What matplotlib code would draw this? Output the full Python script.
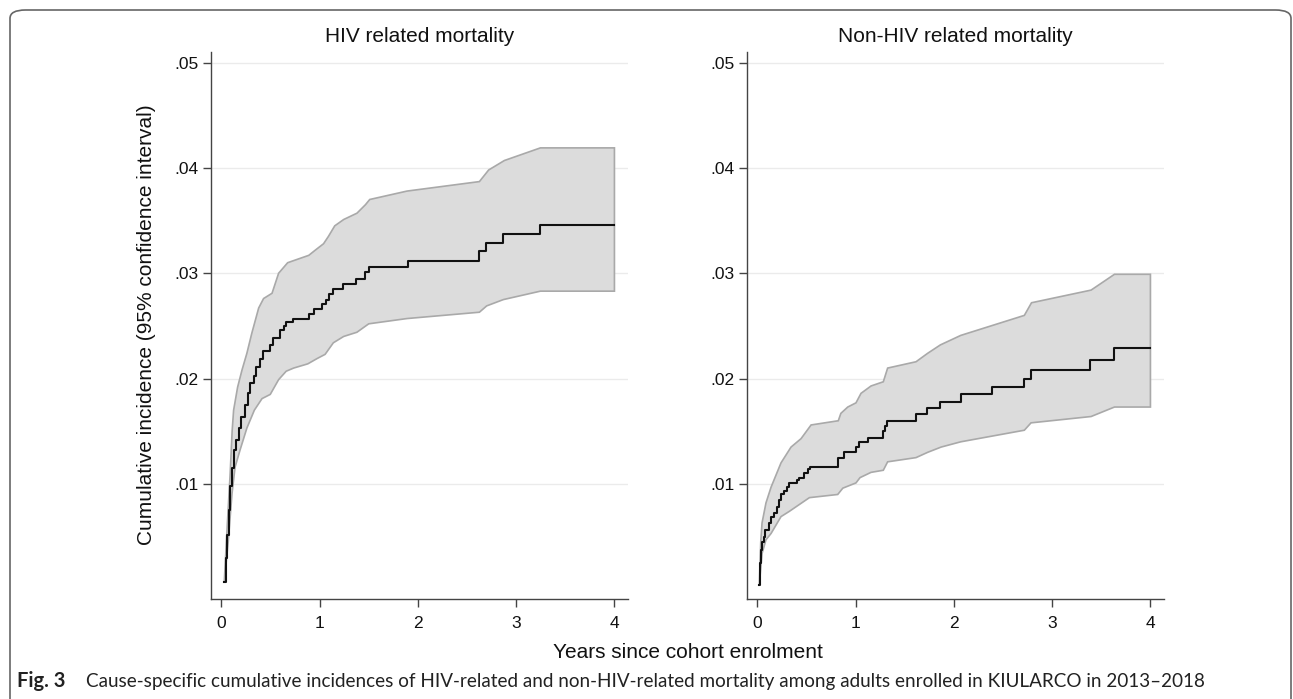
import numpy as np
import matplotlib
matplotlib.use("Agg")
import matplotlib.pyplot as plt
from matplotlib.patches import FancyBboxPatch

plt.rcParams['font.family'] = ['Liberation Sans', 'DejaVu Sans']

# 1. data
hiv_t = [0.03, 0.045, 0.06, 0.075, 0.09, 0.105, 0.125, 0.15, 0.176, 0.2, 0.244, 0.268, 0.295,
         0.336, 0.356, 0.39, 0.424, 0.5, 0.53, 0.593, 0.634, 0.66, 0.73, 0.89, 0.946, 1.026,
         1.067, 1.10, 1.137, 1.238, 1.37, 1.46, 1.50, 1.896, 2.62, 2.695, 2.87, 3.247, 4.0]
hiv_est = [0.0007, 0.0030, 0.0052, 0.0075, 0.0098, 0.0115, 0.0132, 0.0142, 0.0153, 0.0164,
           0.0175, 0.0186, 0.0196, 0.0202, 0.0211, 0.0219, 0.0226, 0.0232, 0.0239, 0.0246,
           0.0250, 0.0254, 0.0257, 0.0261, 0.0266, 0.0271, 0.0275, 0.0280, 0.0285, 0.0290,
           0.0295, 0.0301, 0.0306, 0.0312, 0.0321, 0.0329, 0.0337, 0.0346, 0.0346]

hiv_up_t = [0.03, 0.06, 0.09, 0.11, 0.125, 0.166, 0.21, 0.26, 0.31, 0.38, 0.43, 0.516, 0.583,
            0.675, 0.736, 0.89, 0.957, 1.04, 1.09, 1.154, 1.245, 1.38, 1.466, 1.51, 1.89,
            2.626, 2.72, 2.88, 3.247, 4.0]
hiv_up = [0.0007, 0.0060, 0.0110, 0.0150, 0.0170, 0.0192, 0.0208, 0.0224, 0.0243, 0.0267,
          0.0276, 0.0281, 0.0300, 0.0310, 0.0312, 0.0317, 0.0322, 0.0328, 0.0335, 0.0345,
          0.0351, 0.0357, 0.0365, 0.0370, 0.0378, 0.0387, 0.0398, 0.0407, 0.0419, 0.0419]

hiv_lo_t = [0.03, 0.07, 0.109, 0.14, 0.19, 0.26, 0.336, 0.414, 0.498, 0.583, 0.66, 0.736,
            0.88, 0.974, 1.056, 1.14, 1.245, 1.38, 1.5, 1.89, 2.626, 2.70, 2.87, 3.247, 4.0]
hiv_lo = [0.0007, 0.0045, 0.0091, 0.0116, 0.0132, 0.0153, 0.0170, 0.0181, 0.0185, 0.0199,
          0.0207, 0.0210, 0.0214, 0.0219, 0.0223, 0.0234, 0.0240, 0.0244, 0.0252, 0.0257,
          0.0263, 0.0269, 0.0275, 0.0283, 0.0283]

non_t = [0.02, 0.03, 0.037, 0.05, 0.065, 0.081, 0.115, 0.14, 0.173, 0.197, 0.224, 0.241,
         0.275, 0.298, 0.326, 0.40, 0.427, 0.478, 0.512, 0.54, 0.824, 0.885, 1.004, 1.038,
         1.13, 1.276, 1.30, 1.316, 1.615, 1.727, 1.86, 2.07, 2.39, 2.71, 2.78, 3.39, 3.634, 4.0]
non_est = [0.0004, 0.0025, 0.0037, 0.0045, 0.0050, 0.0056, 0.0063, 0.0069, 0.0072, 0.0078,
           0.0085, 0.0090, 0.0093, 0.0097, 0.0101, 0.0104, 0.0106, 0.0110, 0.0114, 0.0116,
           0.0125, 0.0130, 0.0135, 0.0140, 0.0144, 0.0150, 0.0155, 0.0160, 0.0166, 0.0172,
           0.0178, 0.0185, 0.0192, 0.0200, 0.0208, 0.0218, 0.0229, 0.0229]

non_up_t = [0.02, 0.035, 0.048, 0.088, 0.14, 0.241, 0.343, 0.445, 0.547, 0.824, 0.85, 0.92,
            1.004, 1.055, 1.157, 1.282, 1.326, 1.615, 1.733, 1.863, 2.07, 2.717, 2.79, 3.396,
            3.634, 4.0]
non_up = [0.0004, 0.0045, 0.0063, 0.0082, 0.0097, 0.0120, 0.0135, 0.0143, 0.0156, 0.0160,
          0.0167, 0.0173, 0.0177, 0.0186, 0.0193, 0.0197, 0.0210, 0.0216, 0.0224, 0.0232,
          0.0241, 0.0260, 0.0272, 0.0284, 0.0299, 0.0299]

non_lo_t = [0.02, 0.048, 0.088, 0.14, 0.241, 0.326, 0.42, 0.53, 0.818, 0.87, 1.004, 1.045,
            1.157, 1.282, 1.326, 1.615, 1.733, 1.87, 2.07, 2.717, 2.785, 3.396, 3.634, 4.0]
non_lo = [0.0004, 0.0034, 0.0047, 0.0053, 0.0069, 0.0074, 0.0080, 0.0087, 0.0090, 0.0096,
          0.0101, 0.0106, 0.0111, 0.0113, 0.0121, 0.0125, 0.0130, 0.0135, 0.0140, 0.0151,
          0.0158, 0.0164, 0.0173, 0.0173]

yticks = [0.01, 0.02, 0.03, 0.04, 0.05]
ytick_labels = ['.01', '.02', '.03', '.04', '.05']
xticks = [0, 1, 2, 3, 4]

panels = [
    ("HIV related mortality", hiv_t, hiv_est, hiv_up_t, hiv_up, hiv_lo_t, hiv_lo),
    ("Non-HIV related mortality", non_t, non_est, non_up_t, non_up, non_lo_t, non_lo),
]

# 2. figure
W, H = 1293, 699
fig = plt.figure(figsize=(W / 100, H / 100), dpi=100)

axes_px = [211, 747]  # left edge of each plot area in pixels
for (title, t, est, ut, up, lt, lo), x0 in zip(panels, axes_px):
    ax = fig.add_axes([x0 / W, (H - 599) / H, 417 / W, 547 / H])

    # confidence band as a polygon: upper forward, lower backward
    poly_x = np.concatenate([ut, lt[::-1]])
    poly_y = np.concatenate([up, lo[::-1]])
    ax.fill(poly_x, poly_y, facecolor='#dcdcdc', edgecolor='#a9a9a9', linewidth=1.2, zorder=2)
    ax.plot(t, est, drawstyle='steps-post', color='#111111', linewidth=1.5, zorder=3)

    ax.set_xlim(-0.105, 4.138)
    ax.set_ylim(-0.00092, 0.0510)
    ax.set_yticks(yticks)
    ax.set_yticklabels(ytick_labels)
    ax.set_xticks(xticks)
    ax.grid(axis='y', color='#ebebeb', linewidth=1.0, zorder=0)
    ax.set_axisbelow(True)
    for s in ['top', 'right']:
        ax.spines[s].set_visible(False)
    for s in ['left', 'bottom']:
        ax.spines[s].set_color('#444444')
        ax.spines[s].set_linewidth(1.0)
    ax.tick_params(axis='both', direction='out', length=6, width=1.0, color='#444444',
                   labelsize=12.5, labelcolor='#111111')
    ax.tick_params(axis='y', pad=3)
    ax.tick_params(axis='x', pad=6)
    ax.set_title(title, fontsize=15, pad=7, color='#111111')

# 3. shared labels and caption
fig.text(147 / W, 1 - 325 / H, "Cumulative incidence (95% confidence interval)",
         rotation=90, ha='center', va='center', fontsize=15, color='#111111')
fig.text(688 / W, 1 - 653 / H, "Years since cohort enrolment",
         ha='center', va='center', fontsize=15, color='#111111')

fig.text(17 / W, 1 - 687 / H, "Fig. 3", ha='left', va='baseline', fontsize=14.5,
         fontweight='bold', family=['Lato', 'DejaVu Sans'], color='#222222')
fig.text(86 / W, 1 - 687 / H,
         "Cause-specific cumulative incidences of HIV-related and non-HIV-related mortality "
         "among adults enrolled in KIULARCO in 2013\u20132018",
         ha='left', va='baseline', fontsize=13.6, family=['Lato', 'DejaVu Sans'], color='#222222')

# rounded frame around the figure (open at bottom)
frame = FancyBboxPatch((10 / W, -40 / H), 1281 / W, (H - 10 + 40) / H,
                       boxstyle="round,pad=0,rounding_size=0.012",
                       transform=fig.transFigure, facecolor='none',
                       edgecolor='#666666', linewidth=1.2, clip_on=False)
fig.patches.append(frame)

plt.savefig("out.png", dpi=100)
